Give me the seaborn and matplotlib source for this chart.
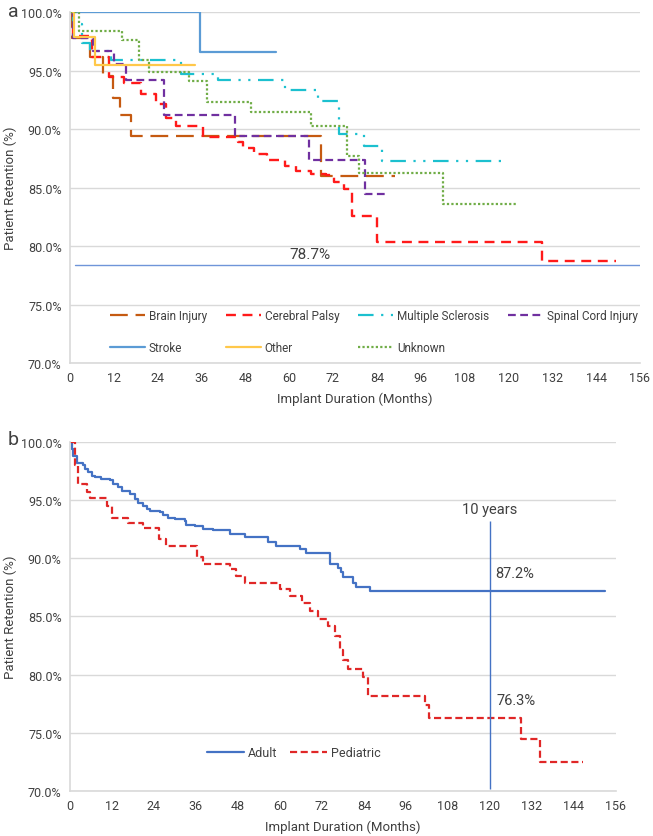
import matplotlib
matplotlib.use("Agg")
import matplotlib.pyplot as plt
import seaborn as sns

sns.set_theme(style="white")
plt.rcParams['font.family'] = ['Roboto', 'DejaVu Sans']

# ---------------- datos panel a (meses, retencion %) ----------------
brain_t = [0, 0.5, 5.6, 9.0, 11.7, 13.8, 16.7, 68.6, 88.9]
brain_v = [100, 97.8, 96.2, 94.6, 92.7, 91.2, 89.4, 86.0, 86.0]

cp_t = [0, 0.9, 6.0, 10.8, 14.9, 19.4, 23.5, 26.2, 29.0, 36.3, 46.0, 47.5,
        50.5, 54.0, 59.0, 62.0, 66.0, 70.0, 72.4, 75.0, 77.2, 84.0, 129.2, 149.5]
cp_v = [100, 98.0, 96.2, 94.5, 94.0, 93.0, 92.2, 91.0, 90.3, 89.3, 88.9, 88.4,
        87.9, 87.4, 86.9, 86.4, 86.2, 86.1, 85.5, 84.9, 82.6, 80.4, 78.7, 78.7]

ms_t = [0, 0.8, 3.2, 5.4, 11.3, 30.3, 40.5, 58.8, 67.8, 73.6, 80.4, 85.4, 120.0]
ms_v = [100, 99.0, 97.4, 96.7, 95.9, 94.7, 94.2, 93.4, 92.4, 89.6, 88.6, 87.3, 87.3]

sci_t = [0, 0.8, 6.2, 12.2, 15.4, 25.7, 45.2, 65.5, 80.8, 86.2]
sci_v = [100, 97.8, 96.7, 95.6, 94.2, 91.2, 89.4, 87.4, 84.5, 84.5]

stroke_t = [0, 35.7, 56.5]
stroke_v = [100, 96.6, 96.6]

other_t = [0, 1.2, 7.0, 34.3]
other_v = [100, 97.9, 95.5, 95.5]

unknown_t = [0, 2.6, 14.4, 19.0, 21.7, 32.5, 37.5, 49.6, 65.9, 75.9, 79.0, 102.1, 122.4]
unknown_v = [100, 98.4, 97.6, 95.9, 94.9, 94.1, 92.3, 91.5, 90.3, 87.7, 86.3, 83.6, 83.6]

ref_line_a = 78.35
ref_text_a = "78.7%"

# ---------------- datos panel b ----------------
adult_t = [0, 0.5, 1.0, 1.9, 3.8, 4.3, 5.2, 6.2, 7.1, 9.0,
           11.4, 12.4, 13.8, 14.8, 17.1, 18.6, 19.5, 20.9, 21.9, 22.9,
           25.7, 26.7, 28.1, 30.0, 32.9, 33.3, 35.7, 38.1, 41.0, 45.7,
           50.0, 56.7, 59.0, 65.7, 67.6, 74.3, 76.7, 77.6, 78.1, 80.9,
           81.9, 85.7, 152.9]
adult_v = [100, 99.4, 98.8, 98.2, 98.0, 97.7, 97.4, 97.1, 97.0, 96.8,
           96.7, 96.4, 96.1, 95.8, 95.5, 95.1, 94.8, 94.5, 94.2, 94.1,
           94.0, 93.7, 93.5, 93.4, 93.2, 92.9, 92.8, 92.5, 92.4, 92.1,
           91.8, 91.4, 91.1, 90.8, 90.5, 89.5, 89.2, 88.8, 88.4, 87.9,
           87.5, 87.2, 87.2]

ped_t = [0, 1.4, 2.4, 4.8, 5.7, 10.5, 11.9, 16.7, 20.9, 25.5,
         27.6, 36.2, 38.1, 45.7, 47.6, 50.0, 60.0, 62.9, 66.2, 68.6,
         70.9, 73.8, 75.7, 77.1, 78.1, 79.5, 83.8, 85.2, 101.4, 102.7,
         129.0, 134.3, 146.5]
ped_v = [100, 98.0, 96.4, 95.7, 95.2, 94.5, 93.5, 93.0, 92.6, 91.7,
         91.1, 90.1, 89.5, 89.1, 88.5, 87.9, 87.4, 86.8, 86.2, 85.5,
         84.8, 84.2, 83.3, 82.1, 81.3, 80.5, 79.8, 78.2, 77.4, 76.3,
         74.5, 72.5, 72.5]

marker_month = 120
adult_text = "87.2%"
ped_text = "76.3%"

x_ticks = list(range(0, 157, 12))
y_ticks = [70, 75, 80, 85, 90, 95, 100]

grid_col = "#d9d9d9"
text_col = "#404040"

fig = plt.figure(figsize=(6.53, 8.37), dpi=100)
ax1 = fig.add_axes([0.107, 0.565, 0.873, 0.419])
ax2 = fig.add_axes([0.107, 0.0538, 0.836, 0.4169])


def estilo(ax):
    ax.set_xlim(0, 156)
    ax.set_ylim(70, 100)
    ax.set_xticks(x_ticks)
    ax.set_yticks(y_ticks)
    ax.set_yticklabels([f"{v:.1f}%" for v in y_ticks])
    ax.grid(axis="y", color=grid_col, linewidth=1)
    ax.grid(axis="x", visible=False)
    for s in ["top", "right"]:
        ax.spines[s].set_visible(False)
    for s in ["left", "bottom"]:
        ax.spines[s].set_color(grid_col)
        ax.spines[s].set_linewidth(1.2)
    ax.tick_params(axis="both", length=0, labelsize=9, labelcolor=text_col, pad=6)
    ax.set_xlabel("Implant Duration (Months)", fontsize=9.5, color=text_col, labelpad=5)
    ax.set_ylabel("Patient Retention (%)", fontsize=9.5, color=text_col, labelpad=3)
    ax.set_axisbelow(True)


def escalon(ax, t, v, color, ls, lw, label):
    sns.lineplot(x=t, y=v, ax=ax, color=color, linestyle=ls, linewidth=lw,
                 drawstyle="steps-post", estimator=None, sort=False,
                 errorbar=None, label=label, legend=False)


# ---------------- panel a ----------------
estilo(ax1)
escalon(ax1, brain_t, brain_v, "#c55a11", (0, (8, 3.5)), 1.6, "Brain Injury")
escalon(ax1, cp_t, cp_v, "#ff1a1a", (0, (4.2, 2.8)), 1.7, "Cerebral Palsy")
escalon(ax1, ms_t, ms_v, "#1cc0cf", (0, (7, 3.4, 1, 3.4, 1, 3.4)), 1.6, "Multiple Sclerosis")
escalon(ax1, sci_t, sci_v, "#7030a0", (0, (3.5, 2)), 1.6, "Spinal Cord Injury")
escalon(ax1, stroke_t, stroke_v, "#5b9bd5", "-", 1.6, "Stroke")
escalon(ax1, other_t, other_v, "#ffc84a", "-", 1.6, "Other")
escalon(ax1, unknown_t, unknown_v, "#70ad47", (0, (1, 1)), 1.6, "Unknown")

ax1.axhline(ref_line_a, xmin=0.009, xmax=1, color="#6f95d9", linewidth=1)
ax1.text(65.6, 79.3, ref_text_a, fontsize=11, color=text_col, ha="center", va="center")

h1 = ax1.get_lines()[:7]
orden = [0, 4, 1, 5, 2, 6, 3]
ax1.legend([h1[i] for i in orden], [h1[i].get_label() for i in orden],
           ncol=4, loc="center", bbox_to_anchor=(0.533, 0.09), frameon=False,
           fontsize=8.5, handlelength=3.0, handletextpad=0.3, columnspacing=1.6,
           labelspacing=1.6, labelcolor=text_col)

# ---------------- panel b ----------------
estilo(ax2)
escalon(ax2, adult_t, adult_v, "#4472c4", "-", 1.6, "Adult")
escalon(ax2, ped_t, ped_v, "#e02727", (0, (3.2, 1.6)), 1.6, "Pediatric")

ax2.vlines(marker_month, 70.2, 93.2, color="#4472c4", linewidth=1)
ax2.text(marker_month, 94.2, "10 years", fontsize=10.5, color=text_col, ha="center", va="center")
ax2.text(121.7, 88.7, adult_text, fontsize=10.5, color=text_col, ha="left", va="center")
ax2.text(121.9, 77.8, ped_text, fontsize=10.5, color=text_col, ha="left", va="center")

h2 = ax2.get_lines()[:2]
ax2.legend(h2, [h.get_label() for h in h2], ncol=2, loc="center",
           bbox_to_anchor=(0.41, 0.11), frameon=False, fontsize=9,
           handlelength=3.0, handletextpad=0.3, columnspacing=1.0,
           labelcolor=text_col)

fig.text(0.012, 0.986, "a", fontsize=14, color=text_col, va="center", ha="left")
fig.text(0.012, 0.474, "b", fontsize=14, color=text_col, va="center", ha="left")

fig.savefig("out.png", dpi=100)
